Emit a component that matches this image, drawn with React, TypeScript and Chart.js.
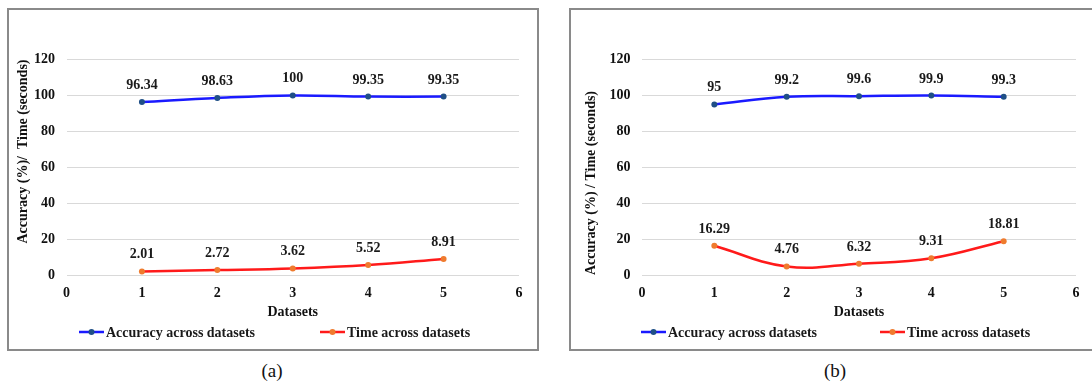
import React, { useEffect, useRef } from "react";
import { Chart, registerables } from "chart.js";

Chart.register(...registerables);

// ---- data ----
const DATASET_X = [1, 2, 3, 4, 5];
const ACCURACY_A = [96.34, 98.63, 100, 99.35, 99.35];
const TIME_A = [2.01, 2.72, 3.62, 5.52, 8.91];
const ACCURACY_B = [95, 99.2, 99.6, 99.9, 99.3];
const TIME_B = [16.29, 4.76, 6.32, 9.31, 18.81];
const SERIES_LABELS = ["Accuracy across datasets", "Time across datasets"];
const X_TITLE = "Datasets";
const Y_TITLE_A = "Accuracy (%)/  Time (seconds)";
const Y_TITLE_B = "Accuracy (%) / Time (seconds)";
const CAPTIONS = ["(a)", "(b)"];

const FONT = '"Liberation Serif", "Times New Roman", serif';
const BLUE = "#1a1aff";
const BLUE_PT = "#1f4f86";
const RED = "#ff1a1a";
const RED_PT = "#ef7b2e";

type PanelCfg = {
  acc: number[];
  time: number[];
  yTitle: string;
  yTitleAlign: "start" | "center" | "end";
  yTitlePad: number;
  yAxisWidth: number;
  padRight: number;
  legendX: number[];
};

const labelPlugin = {
  id: "pointLabels",
  afterDatasetsDraw(chart: any) {
    const ctx = chart.ctx;
    ctx.save();
    ctx.font = `bold 14px ${FONT}`;
    ctx.textAlign = "center";
    ctx.textBaseline = "alphabetic";
    ctx.fillStyle = "#1a1a1a";
    chart.data.datasets.forEach((ds: any, i: number) => {
      const meta = chart.getDatasetMeta(i);
      meta.data.forEach((pt: any, j: number) => {
        ctx.fillText(String(ds.data[j].y), pt.x, pt.y - 13);
      });
    });
    ctx.restore();
  },
};

const customLegend = {
  id: "customLegend",
  afterDraw(chart: any, _args: any, opts: any) {
    const ctx = chart.ctx;
    const y = opts.y;
    ctx.save();
    chart.data.datasets.forEach((ds: any, i: number) => {
      const x0 = opts.xs[i];
      ctx.strokeStyle = ds.borderColor;
      ctx.lineWidth = 2.5;
      ctx.beginPath();
      ctx.moveTo(x0, y);
      ctx.lineTo(x0 + 25, y);
      ctx.stroke();
      ctx.fillStyle = ds.pointBackgroundColor;
      ctx.beginPath();
      ctx.arc(x0 + 12.5, y, 3, 0, Math.PI * 2);
      ctx.fill();
      ctx.font = `bold 14px ${FONT}`;
      ctx.textAlign = "left";
      ctx.textBaseline = "middle";
      ctx.fillStyle = "#1a1a1a";
      ctx.fillText(ds.label, x0 + 27, y + 1);
    });
    ctx.restore();
  },
};

function Panel({ cfg, width, height }: { cfg: PanelCfg; width: number; height: number }) {
  const ref = useRef<HTMLCanvasElement | null>(null);
  useEffect(() => {
    if (!ref.current) return;
    const mk = (vals: number[]) => DATASET_X.map((x, i) => ({ x, y: vals[i] }));
    const chart = new Chart(ref.current, {
      type: "line",
      data: {
        datasets: [
          {
            label: SERIES_LABELS[0],
            data: mk(cfg.acc),
            borderColor: BLUE,
            backgroundColor: BLUE,
            pointBackgroundColor: BLUE_PT,
            pointBorderColor: BLUE_PT,
            pointRadius: 3,
            pointBorderWidth: 0,
            borderWidth: 2.5,
            tension: 0.4,
          },
          {
            label: SERIES_LABELS[1],
            data: mk(cfg.time),
            borderColor: RED,
            backgroundColor: RED,
            pointBackgroundColor: RED_PT,
            pointBorderColor: RED_PT,
            pointRadius: 3,
            pointBorderWidth: 0,
            borderWidth: 2.5,
            tension: 0.4,
          },
        ],
      } as any,
      options: {
        responsive: false,
        animation: false,
        layout: { padding: { top: 49.5, right: cfg.padRight, bottom: 0, left: 0 } },
        plugins: {
          legend: { display: false },
          tooltip: { enabled: false },
          customLegend: { y: 322, xs: cfg.legendX },
        } as any,
        scales: {
          x: {
            type: "linear",
            min: 0,
            max: 6,
            ticks: { stepSize: 1, padding: 10, color: "#111", font: { family: FONT, size: 14, weight: "bold" } },
            grid: { display: false, drawTicks: false },
            border: { display: false },
            title: {
              display: true,
              text: X_TITLE,
              color: "#111",
              font: { family: FONT, size: 14, weight: "bold" },
              padding: { top: 0, bottom: 28.5 },
            },
            afterFit: (s: any) => {
              s.height = 74;
            },
          },
          y: {
            min: 0,
            max: 120,
            ticks: { stepSize: 20, padding: 11.5, color: "#111", font: { family: FONT, size: 14, weight: "bold" } },
            grid: { color: "#d9d9d9", lineWidth: 1, drawTicks: false },
            border: { display: false },
            title: {
              display: true,
              text: cfg.yTitle,
              align: cfg.yTitleAlign,
              color: "#111",
              font: { family: FONT, size: 14, weight: "bold" },
              padding: { top: cfg.yTitlePad, bottom: 0 },
            },
            afterFit: (s: any) => {
              s.width = cfg.yAxisWidth;
            },
          },
        },
      } as any,
      plugins: [labelPlugin, customLegend],
    });
    return () => chart.destroy();
  }, [cfg]);
  return <canvas ref={ref} width={width} height={height} style={{ width, height, display: "block" }} />;
}

const CFG_A: PanelCfg = {
  acc: ACCURACY_A,
  time: TIME_A,
  yTitle: Y_TITLE_A,
  yTitleAlign: "end",
  yTitlePad: 5.6,
  yAxisWidth: 57.5,
  padRight: 18,
  legendX: [70, 311],
};
const CFG_B: PanelCfg = {
  acc: ACCURACY_B,
  time: TIME_B,
  yTitle: Y_TITLE_B,
  yTitleAlign: "start",
  yTitlePad: 11.6,
  yAxisWidth: 71,
  padRight: 16,
  legendX: [70, 309],
};

export default function App() {
  const boxBorder = "2px solid #8a8a8a";
  return (
    <div
      style={{
        position: "absolute",
        left: 0,
        top: 0,
        width: 1092,
        height: 385,
        overflow: "hidden",
        background: "#fff",
      }}
    >
      <div style={{ position: "absolute", left: 7, top: 8, width: 528, height: 339, border: boxBorder }}>
        <Panel cfg={CFG_A} width={528} height={339} />
      </div>
      <div style={{ position: "absolute", left: 569, top: 8, width: 540, height: 339, border: boxBorder }}>
        <Panel cfg={CFG_B} width={521} height={339} />
      </div>
      <div
        style={{
          position: "absolute",
          left: 222,
          width: 100,
          top: 360,
          textAlign: "center",
          fontFamily: FONT,
          fontSize: 19,
          color: "#111",
        }}
      >
        {CAPTIONS[0]}
      </div>
      <div
        style={{
          position: "absolute",
          left: 785,
          width: 100,
          top: 360,
          textAlign: "center",
          fontFamily: FONT,
          fontSize: 19,
          color: "#111",
        }}
      >
        {CAPTIONS[1]}
      </div>
    </div>
  );
}
